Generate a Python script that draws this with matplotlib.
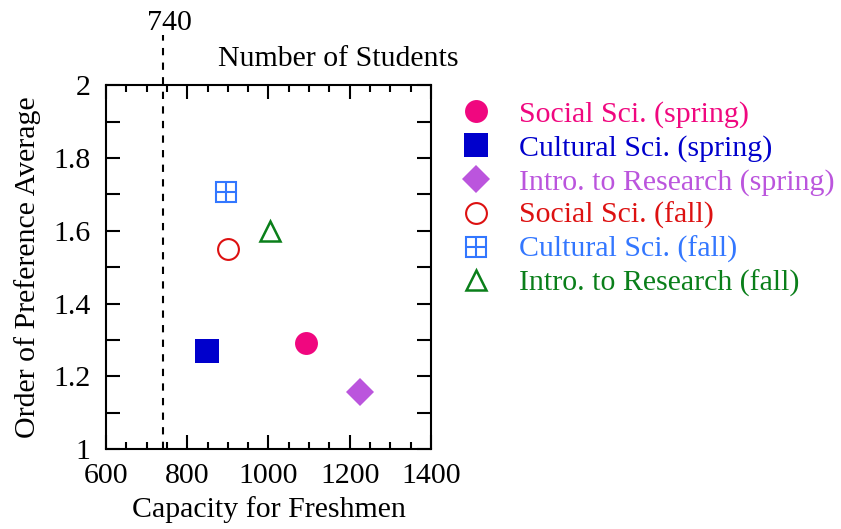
import matplotlib
matplotlib.use("Agg")
import matplotlib.pyplot as plt
from matplotlib.ticker import MultipleLocator, FormatStrFormatter

plt.rcParams["font.family"] = ["Liberation Serif", "DejaVu Serif"]
plt.rcParams["font.size"] = 21.5

# data
labels = ["Social Sci. (spring)", "Cultural Sci. (spring)", "Intro. to Research (spring)",
          "Social Sci. (fall)", "Cultural Sci. (fall)", "Intro. to Research (fall)"]
capacity = [1093, 849, 1224, 900, 895, 1004]
preference = [1.292, 1.269, 1.157, 1.549, 1.706, 1.600]
colors = ["#F0077F", "#0000CC", "#BB55DD", "#DD1111", "#3377FF", "#0A7F1A"]
students = 740

fig = plt.figure(figsize=(8.41, 5.29), dpi=100)
ax = fig.add_axes([0.126, 0.151, 0.3865, 0.688])

handles = []
# spring: filled markers
h, = ax.plot(capacity[0], preference[0], "o", ms=16.5, color=colors[0], mew=0)
handles.append(h)
h, = ax.plot(capacity[1], preference[1], "s", ms=17, color=colors[1], mew=0)
handles.append(h)
h, = ax.plot(capacity[2], preference[2], "D", ms=14.5, color=colors[2], mew=0)
handles.append(h)
# fall: open markers
h, = ax.plot(capacity[3], preference[3], "o", ms=15, mfc="none", mec=colors[3], mew=1.5)
handles.append(h)
h1, = ax.plot(capacity[4], preference[4], "s", ms=15, mfc="none", mec=colors[4], mew=1.5)
h2, = ax.plot(capacity[4], preference[4], "+", ms=15, mec=colors[4], mew=1.5)
handles.append((h1, h2))
h, = ax.plot(capacity[5], preference[5], "^", ms=14, mfc="none", mec=colors[5], mew=1.8)
handles.append(h)

# number of students line
ax.axvline(students, ymin=0, ymax=1.137, color="black", ls=(0, (3.5, 3.5)), lw=1.5, clip_on=False)
ax.text(757, 1.172, str(students), transform=ax.get_xaxis_transform(),
        ha="center", va="center")
ax.text(1171, 1.072, "Number of Students", transform=ax.get_xaxis_transform(),
        ha="center", va="center")

ax.set_xlim(600, 1400)
ax.set_ylim(1, 2)
ax.xaxis.set_major_locator(MultipleLocator(200))
ax.xaxis.set_minor_locator(MultipleLocator(50))
ax.yaxis.set_major_locator(MultipleLocator(0.2))
ax.yaxis.set_minor_locator(MultipleLocator(0.1))
ax.yaxis.set_major_formatter(FormatStrFormatter("%g"))
ax.tick_params(which="both", direction="in", top=True, right=True, width=1.5)
ax.tick_params(axis="x", which="major", length=10, pad=10)
ax.tick_params(axis="x", which="minor", length=5)
ax.tick_params(axis="y", which="both", length=10, pad=11)
for s in ax.spines.values():
    s.set_linewidth(1.5)

ax.set_xlabel("Capacity for Freshmen", labelpad=5)
ax.set_ylabel("Order of Preference Average", labelpad=9)

leg = ax.legend(handles, labels, loc="upper left", bbox_to_anchor=(1.055, 0.99),
                frameon=False, handlelength=1.0, handletextpad=0.95,
                labelspacing=0.22, borderaxespad=0, numpoints=1)
for t, c in zip(leg.get_texts(), colors):
    t.set_color(c)

fig.savefig("out.png", dpi=100)
